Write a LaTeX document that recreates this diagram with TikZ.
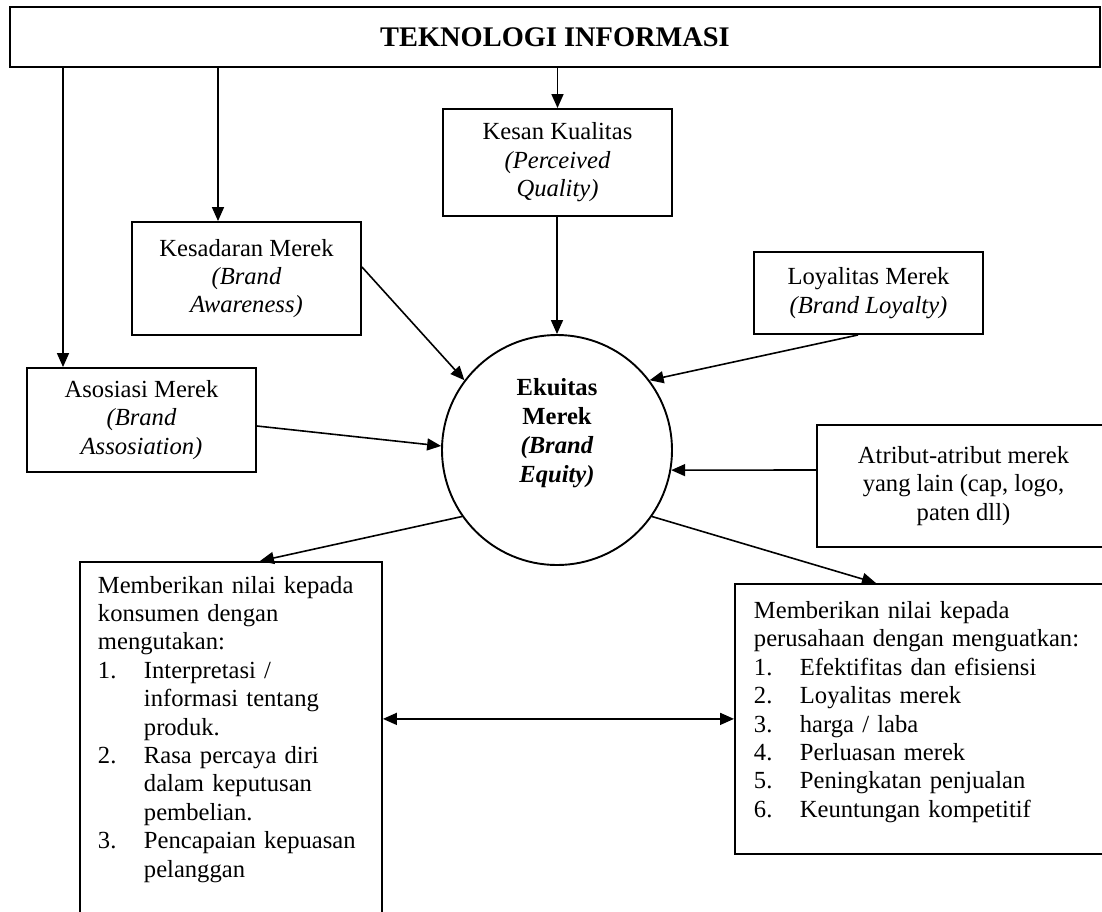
\documentclass[tikz,border=0pt]{standalone}
\usepackage{fontspec}
\setmainfont{Liberation Serif}
\usetikzlibrary{positioning, calc, arrows.meta}
\newcommand{\listnr}[1]{\makebox[23pt][l]{#1}}
\newcommand{\listind}{\hspace*{23pt}}

\begin{document}
\begin{tikzpicture}[
  x=0.5pt, y=-0.5pt,
  font=\fontsize{12.3}{14.2}\selectfont,
  box/.style={rectangle, draw, line width=0.95pt, align=center, inner sep=0pt},
  listbox/.style={rectangle, draw, line width=0.95pt, align=left, anchor=north west},
  ring/.style={circle, draw, line width=0.95pt, minimum size=115pt, inner sep=0pt,
    font=\fontsize{12.3}{14.5}\selectfont\bfseries},
  arr/.style={-{Triangle[length=7pt, width=6pt]}, line width=0.8pt},
  arrboth/.style={{Triangle[length=7pt, width=6pt]}-{Triangle[length=7pt, width=6pt]},
    line width=0.8pt}
]
  \useasboundingbox (0,0) rectangle (1102,911);
  \clip (0,0) rectangle (1102,911);

  \node[box, minimum width=545pt, minimum height=30pt,
    font=\fontsize{14.2}{16}\selectfont\bfseries] (tek) at (555,37) {TEKNOLOGI INFORMASI};
  \node[box, minimum width=114.5pt, minimum height=53.5pt] (kq) at (557.5,162.5)
    {Kesan Kualitas\\\textit{(Perceived}\\\textit{Quality)}};
  \node[box, minimum width=114.5pt, minimum height=56.5pt] (kd) at (246.5,278.5)
    {Kesadaran Merek\\\textit{(Brand}\\\textit{Awareness)}};
  \node[box, minimum width=114.5pt, minimum height=52pt] (asos) at (141.5,420)
    {Asosiasi Merek\\\textit{(Brand}\\\textit{Assosiation)}};
  \node[box, minimum width=114.5pt, minimum height=41pt] (loy) at (868.5,293)
    {Loyalitas Merek\\\textit{(Brand Loyalty)}};
  \node[box, minimum width=146.5pt, minimum height=61pt] (atr) at (963.5,486)
    {Atribut-atribut merek\\yang lain (cap, logo,\\paten dll)};
  \node[ring] (eq) at (557,450)
    {\raisebox{8.5pt}[\height][\depth]{\begin{tabular}{@{}c@{}}Ekuitas\\Merek\\\textit{(Brand}\\\textit{Equity)}\end{tabular}}};

  \node[listbox, text width=133pt, inner xsep=9pt, inner ysep=7pt, text depth=170pt] (lb) at (79,561)
    {Memberikan nilai kepada\\
     konsumen dengan\\
     mengutakan:\\
     \listnr{1.}Interpretasi /\\
     \listind informasi tentang\\
     \listind produk.\\
     \listnr{2.}Rasa percaya diri\\
     \listind dalam keputusan\\
     \listind pembelian.\\
     \listnr{3.}Pencapaian kepuasan\\
     \listind pelanggan};
  \node[listbox, text width=169pt, inner xsep=9.5pt, inner ysep=8.7pt, text depth=109pt] (rb) at (734,583)
    {Memberikan nilai kepada\\
     perusahaan dengan menguatkan:\\
     \listnr{1.}Efektifitas dan efisiensi\\
     \listnr{2.}Loyalitas merek\\
     \listnr{3.}harga / laba\\
     \listnr{4.}Perluasan merek\\
     \listnr{5.}Peningkatan penjualan\\
     \listnr{6.}Keuntungan kompetitif};

  \coordinate (asin) at ([xshift=-39.25pt]asos.north);
  \coordinate (kdin) at ([xshift=-14.25pt]kd.north);
  \draw[arr] (tek.south -| asin) -- (asin);
  \draw[arr] (tek.south -| kdin) -- (kdin);
  \draw[arr] (tek.south -| kq.north) -- (kq.north);
  \draw[arr] (kq.south -| eq.north) -- (eq.north);

  \draw[arr] ([yshift=5.75pt]kd.east) -- (eq.143);
  \draw[arr] ([yshift=-3pt]asos.east) -- (eq.178);
  \draw[arr] ([xshift=-5.25pt]loy.south) -- (eq.37);
  \draw[arr] ([yshift=8pt]atr.west) -- (eq.-10);
  \draw[arr] (eq.215) -- ([xshift=14.5pt]lb.north);
  \draw[arr] (eq.325) -- ([xshift=-23.5pt]rb.north);
  \draw[arrboth] (lb.east |- rb.west) -- (rb.west);
\end{tikzpicture}
\end{document}
